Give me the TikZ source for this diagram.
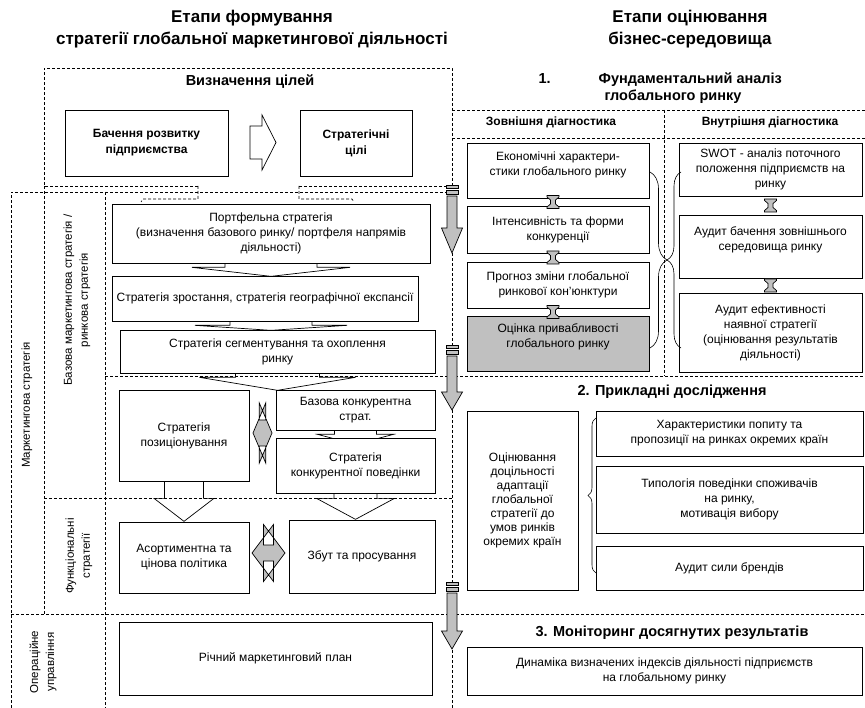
\documentclass[tikz,border=0pt]{standalone}
\usepackage{fontspec}
\setmainfont{Liberation Sans}
\usetikzlibrary{calc,decorations.pathreplacing}

\definecolor{boxgrey}{RGB}{192,192,192}
\pgfdeclarelayer{bg}
\pgfsetlayers{bg,main}

\tikzset{
	box/.style={draw, line width=0.7pt, fill=white, align=center, inner sep=1pt, font=\fontsize{12}{15}\selectfont},
	boldbox/.style={box, font=\bfseries\fontsize{12}{16}\selectfont},
	maintitle/.style={align=center, font=\bfseries\fontsize{17}{22}\selectfont},
	sechead/.style={align=center, font=\bfseries\fontsize{14.5}{17}\selectfont},
	subhead/.style={align=center, font=\bfseries\fontsize{12}{14}\selectfont},
	side/.style={align=center, rotate=90, font=\fontsize{11.5}{16}\selectfont},
	divider/.style={dash pattern=on 3pt off 2pt, line width=0.6pt},
	blk/.style={draw, line width=0.7pt, fill=white},
	grey_arr/.style={draw, line width=0.7pt, fill=boxgrey},
	brace_line/.style={decorate, line width=0.6pt},
	pics/chevron/.style n args={4}{code={
		\path[blk] (-#1,-3) -- (-#1,#3) -- (-#2,#3) -- (0,#3+#4) -- (#2,#3) -- (#1,#3) -- (#1,-3) -- cycle;
	}},
	pics/twohead/.style n args={4}{code={
		\path[grey_arr, even odd rule] (-#1/2,0) -- (-#1/2+#3,-#2/2) -- (-#1/2+#3,-#4) -- (#1/2-#3,-#4) -- (#1/2-#3,-#2/2) -- (#1/2,0) -- (#1/2-#3,#2/2) -- (#1/2-#3,#4) -- (-#1/2+#3,#4) -- (-#1/2+#3,#2/2) -- cycle;
	}},
	pics/ibeam/.style={code={
		\path[grey_arr] (-6,-6.5) -- (6,-6.5) -- (6,-5) -- (2.5,-2) -- (2.5,2) -- (6,5) -- (6,6.5) -- (-6,6.5) -- (-6,5) -- (-2.5,2) -- (-2.5,-2) -- (-6,-5) -- cycle;
	}},
	pics/stripedown/.style n args={2}{code={
		\path[grey_arr] (-6,0) rectangle (6,3.5);
		\path[grey_arr] (-6,5.5) rectangle (6,9);
		\path[grey_arr] (-5,11) -- (-5,11+#1) -- (-10.5,11+#1) -- (0,11+#1+#2) -- (10.5,11+#1) -- (5,11+#1) -- (5,11) -- cycle;
	}}
}

\begin{document}
\begin{tikzpicture}[x=1pt, y=-1pt]
	\useasboundingbox (0,0) rectangle (865,708);

	%% TITLES
	\node[maintitle] (title_form) at (252,29) {Етапи формування\\стратегії глобальної маркетингової діяльності};
	\node[maintitle] (title_eval) at (690,29) {Етапи оцінювання\\бізнес-середовища};

	%% GOALS
	\node[sechead] (goals_head) at (250,82) {Визначення цілей};
	\node[boldbox, minimum width=163pt, minimum height=66pt] (vision) at (146.5,143) {Бачення розвитку\\підприємства};
	\node[boldbox, minimum width=112pt, minimum height=66pt] (goals) at (356,143) {Стратегічні\\цілі};
	\path[blk] (250,126) -- (262,126) -- (262,115) -- (276,142.5) -- (262,170) -- (262,159) -- (250,159) -- cycle;

	%% BASE MARKETING STRATEGY
	\node[box, minimum width=318pt, minimum height=59pt] (portfolio) at (271,233.5) {Портфельна стратегія\\(визначення базового ринку/ портфеля напрямів\\діяльності)};
	\node[box, minimum width=306pt, minimum height=45pt] (growth) at (265,298.5) {Стратегія зростання, стратегія географічної експансії};
	\node[box, minimum width=315pt, minimum height=43pt] (segment) at (277.5,351.5) {Стратегія сегментування та охоплення\\ринку};
	\node[box, minimum width=130pt, minimum height=91pt] (position) at (184,435.5) {Стратегія\\позиціонування};
	\node[box, minimum width=159pt, minimum height=40pt] (base_comp) at (355.5,410) {Базова конкурентна\\страт.};
	\node[box, minimum width=159pt, minimum height=55pt] (behaviour) at (355.5,465.5) {Стратегія\\конкурентної поведінки};

	%% FUNCTIONAL AND OPERATIONAL
	\node[box, minimum width=130pt, minimum height=71pt] (assort) at (184,557.5) {Асортиментна та\\цінова політика};
	\node[box, minimum width=146pt, minimum height=73pt] (sales) at (362,556.5) {Збут та просування};
	\node[box, minimum width=313pt, minimum height=73pt] (plan) at (275.5,658.5) {Річний маркетинговий план};

	\begin{pgfonlayer}{bg}
		\pic at (portfolio.south) {chevron={46}{79}{4}{9}};
		\pic at ($(growth.south)+(6,0)$) {chevron={41}{76}{4}{5}};
		\pic at (segment.south) {chevron={42}{78}{4}{13}};
		\pic at (base_comp.south) {chevron={21}{38}{4}{10}};
		\pic at (position.south) {chevron={19.5}{30}{17}{23}};
		\pic at (behaviour.south) {chevron={21.5}{39}{5}{21}};
	\end{pgfonlayer}

	\pic at (262.5,433) {twohead={19}{60}{12.7}{13}};
	\pic at (268.5,553) {twohead={33}{57}{21.5}{8}};

	%% SIDE LABELS
	\node[side] (lbl_market) at (27,405) {Маркетингова стратегія};
	\node[side] (lbl_base) at (77,300) {Базова маркетингова стратегія /\\ринкова стратегія};
	\node[side] (lbl_func) at (79,556) {Функціональні\\стратегії};
	\node[side] (lbl_oper) at (43,662) {Операційне\\управління};

	%% 1. FUNDAMENTAL ANALYSIS
	\node[sechead, align=left, anchor=west] (fund_head) at (535,88.5) {1.\hspace{48pt}Фундаментальний аналіз\\\hspace*{66pt}глобального ринку};
	\node[subhead] (ext_head) at (551,122) {Зовнішня діагностика};
	\node[subhead] (int_head) at (770,122) {Внутрішня діагностика};

	\node[box, text depth=14pt, minimum width=182pt, minimum height=55pt] (econ) at (558,170.5) {Економічні характери-\\стики глобального ринку};
	\node[box, minimum width=182pt, minimum height=47pt] (compet) at (558,229.5) {Інтенсивність та форми\\конкуренції};
	\node[box, minimum width=182pt, minimum height=46pt] (forecast) at (558,285) {Прогноз зміни глобальної\\ринкової кон'юнктури};
	\node[box, text depth=16pt, fill=boxgrey, minimum width=182pt, minimum height=55pt] (attract) at (558,343.5) {Оцінка привабливості\\глобального ринку};

	\node[box, minimum width=183pt, minimum height=53pt] (swot) at (770.5,169.5) {SWOT - аналіз поточного\\положення підприємств на\\ринку};
	\node[box, text depth=16pt, minimum width=183pt, minimum height=63pt] (audit_vision) at (770.5,246.5) {Аудит бачення зовнішнього\\середовища ринку};
	\node[box, minimum width=183pt, minimum height=79pt] (audit_eff) at (770.5,332.5) {Аудит ефективності\\наявної стратегії\\(оцінювання результатів\\діяльності)};

	\pic at ($(econ.south)!0.5!(compet.north)+(-5,0)$) {ibeam};
	\pic at ($(compet.south)!0.5!(forecast.north)+(-5,0)$) {ibeam};
	\pic at ($(forecast.south)!0.5!(attract.north)+(-5,0)$) {ibeam};
	\pic at ($(swot.south)!0.5!(audit_vision.north)$) {ibeam};
	\pic at ($(audit_vision.south)!0.5!(audit_eff.north)$) {ibeam};

	\draw[brace_line, decoration={brace, amplitude=17pt}] (650,172) -- (650,348);
	\draw[brace_line, decoration={brace, amplitude=14pt}] (681,348) -- (681,172);

	%% 2. APPLIED RESEARCH
	\node[sechead] (appl_head) at (672,392) {2. Прикладні дослідження};
	\node[box, font=\fontsize{12}{14}\selectfont, minimum width=111pt, minimum height=179pt] (adapt) at (522.5,500.5) {Оцінювання\\доцільності\\адаптації\\глобальної\\стратегії до\\умов ринків\\окремих країн};
	\node[box, minimum width=267pt, minimum height=45pt] (demand) at (729.5,433.5) {Характеристики попиту та\\пропозиції на ринках окремих країн};
	\node[box, minimum width=267pt, minimum height=67pt] (typology) at (729.5,499.5) {Типологія поведінки споживачів\\на ринку,\\мотивація вибору};
	\node[box, minimum width=267pt, minimum height=44pt] (brands) at (729.5,568) {Аудит сили брендів};

	\draw[brace_line, decoration={brace, amplitude=8pt}] (596,573) -- (596,418);

	%% 3. MONITORING
	\node[sechead] (monit_head) at (672,633) {3. Моніторинг досягнутих результатів};
	\node[box, minimum width=395pt, minimum height=48pt] (dynamics) at (664.5,671) {Динаміка визначених індексів діяльності підприємств\\на глобальному ринку};

	%% DASHED FRAMES
	\begin{pgfonlayer}{bg}
		\draw[divider] (198,186) -- (44,186) -- (44,68) -- (452,68) -- (452,185);
		\draw[divider] (299,186) -- (452,186);
		\draw[divider] (198,186) -- (198,199) -- (143,199) -- (141,202);
		\draw[divider] (299,186) -- (299,199) -- (352,199) -- (354,202);
		\draw[divider] (11,708) -- (11,192) -- (446,192);
		\draw[divider] (44,186) -- (44,614);
		\draw[divider] (105,192) -- (105,708);
		\draw[divider] (105,376) -- (865,376);
		\draw[divider] (44,498) -- (452,498);
		\draw[divider] (11,614) -- (865,614);
		\draw[divider] (452,253) -- (452,345);
		\draw[divider] (452,410) -- (452,582);
		\draw[divider] (452,650) -- (452,708);
		\draw[divider] (452,110) -- (865,110);
		\draw[divider] (452,138) -- (865,138);
		\draw[divider] (664,110) -- (664,376);
	\end{pgfonlayer}

	%% STAGE ARROWS
	\pic at (452,185) {stripedown={32}{25}};
	\pic at (452,345) {stripedown={36}{18}};
	\pic at (452,582) {stripedown={38}{18}};

\end{tikzpicture}
\end{document}
